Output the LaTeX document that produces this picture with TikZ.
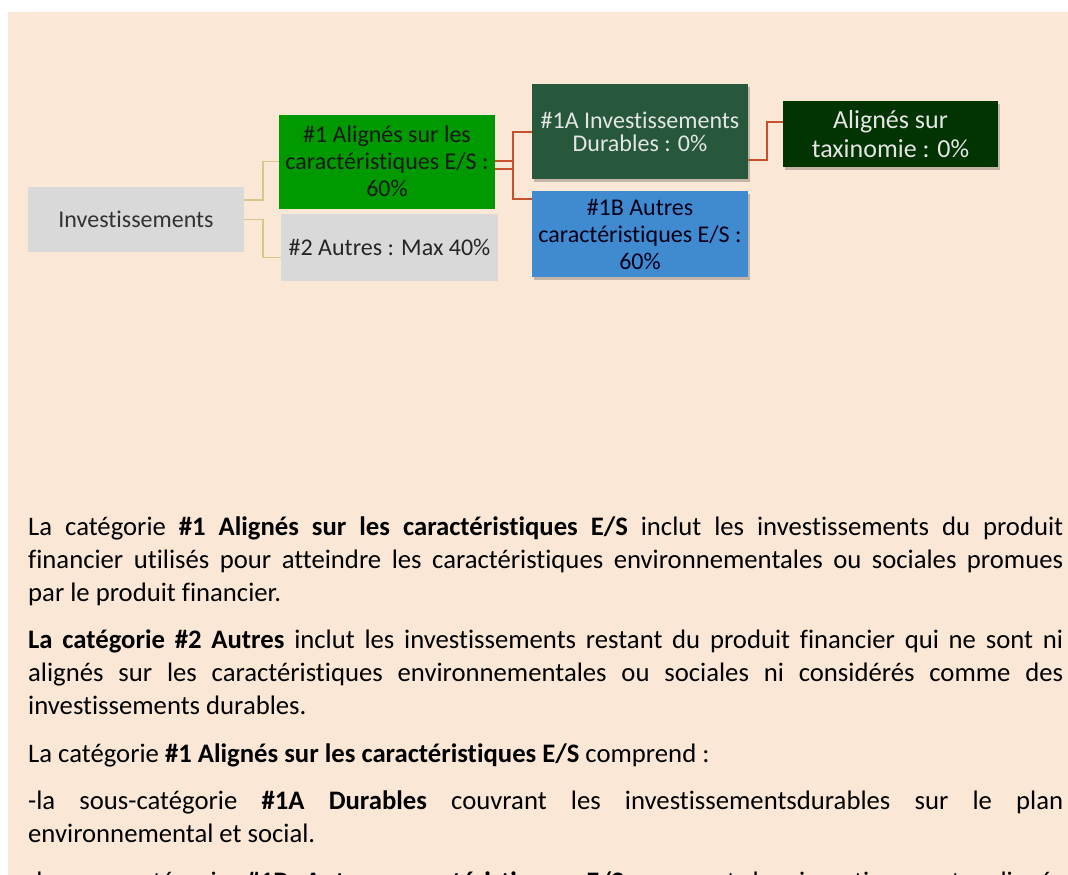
\documentclass[tikz,border=0pt]{standalone}
\usepackage{fontspec}
\setmainfont{Carlito}[Ligatures=NoCommon]
\usetikzlibrary{shadows}

\definecolor{panelbg}{HTML}{FAE7D6}
\definecolor{boxgray}{HTML}{D9D9D9}
\definecolor{boxgreen}{HTML}{009900}
\definecolor{boxforest}{HTML}{27583C}
\definecolor{boxblue}{HTML}{408AD0}
\definecolor{boxdark}{HTML}{013401}
\definecolor{tanline}{HTML}{D5C98A}
\definecolor{redline}{HTML}{C4502E}

\newcommand{\bodyset}{\setlength{\parskip}{14.5pt}\hyphenpenalty=10000 \tolerance=10000}

\begin{document}
\begin{tikzpicture}[x=1pt, y=-1pt,
  box/.style={inner sep=0pt, align=center, font=\fontsize{24}{27}\selectfont},
  shadowed/.style={drop shadow={shadow xshift=2pt, shadow yshift=-3pt, fill=black, opacity=0.22}},
  tanlink/.style={draw=tanline, line width=1.5pt},
  redlink/.style={draw=redline, line width=2pt},
  bodytext/.style={inner sep=0pt, text width=1035pt, align=justify, font=\fontsize{26.7}{33}\selectfont}]
\useasboundingbox (0,0) rectangle (1068,875);
\clip (0,0) rectangle (1068,875);

% Panel
\fill[panelbg] (8,12) rectangle (1068,875);

% Boxes
\node[box, fill=boxgray, text=black!80, minimum width=216pt, minimum height=65pt] (inv) at (136,219.5) {Investissements};
\node[box, fill=boxgreen, text=black!90, minimum width=216pt, minimum height=94pt] (a1) at (387,161.5) {\#1 Alignés sur les\\caractéristiques E/S :\\60\%};
\node[box, fill=boxgray, text=black!85, minimum width=217pt, minimum height=67pt] (a2) at (389.5,247.5) {\#2 Autres : Max 40\%};
\node[box, shadowed, fill=boxforest, text=white!90!black, minimum width=216pt, minimum height=95pt,
  font=\fontsize{24}{23}\selectfont] (a1A) at (640,131.5) {\#1A Investissements\\Durables : 0\%};
\node[box, shadowed, fill=boxblue, text=black!90!blue, minimum width=216pt, minimum height=86pt] (a1B) at (640,234) {\#1B Autres\\caractéristiques E/S :\\60\%};
\node[box, shadowed, fill=boxdark, text=white!90!black, minimum width=215pt, minimum height=66pt,
  font=\fontsize{26}{29}\selectfont] (tax) at (890.5,134) {Alignés sur\\taxinomie : 0\%};

% Connectors
\draw[tanlink] ([yshift=19.5pt]inv.east) -- ++(19,0) |- (a1.west);
\draw[tanlink] (inv.east) -- ++(19,0) |- ([yshift=-10pt]a2.west);
\draw[redlink] ([yshift=0.5pt]a1.east) -- ++(18,0) coordinate (rj);
\draw[redlink] ([yshift=-7.5pt]a1.east) -- ++(18,0);
\draw[redlink] (a1A.west) -| (rj) |- ([yshift=35pt]a1B.west);
\draw[redlink] ([yshift=-28.5pt]a1A.east) -- ++(19,0) |- ([yshift=12pt]tax.west);

% Text below
\node[bodytext, anchor=base west] (notes) at (28,535) {\bodyset
La catégorie \textbf{\#1 Alignés sur les caractéristiques E/S} inclut les investissements du produit\linebreak
financier utilisés pour atteindre les caractéristiques environnementales ou sociales promues\linebreak
par le produit financier.\par
\textbf{La catégorie \#2 Autres} inclut les investissements restant du produit financier qui ne sont ni\linebreak
alignés sur les caractéristiques environnementales ou sociales ni considérés comme des\linebreak
investissements durables.\par
La catégorie \textbf{\#1 Alignés sur les caractéristiques E/S} comprend :\par
-la sous-catégorie \textbf{\#1A Durables} couvrant les investissementsdurables sur le plan\linebreak
environnemental et social.\par
-la sous-catégorie \textbf{\#1B Autres caractéristiques E/S} couvrant les investissements alignés\linebreak\par};
\end{tikzpicture}
\end{document}
